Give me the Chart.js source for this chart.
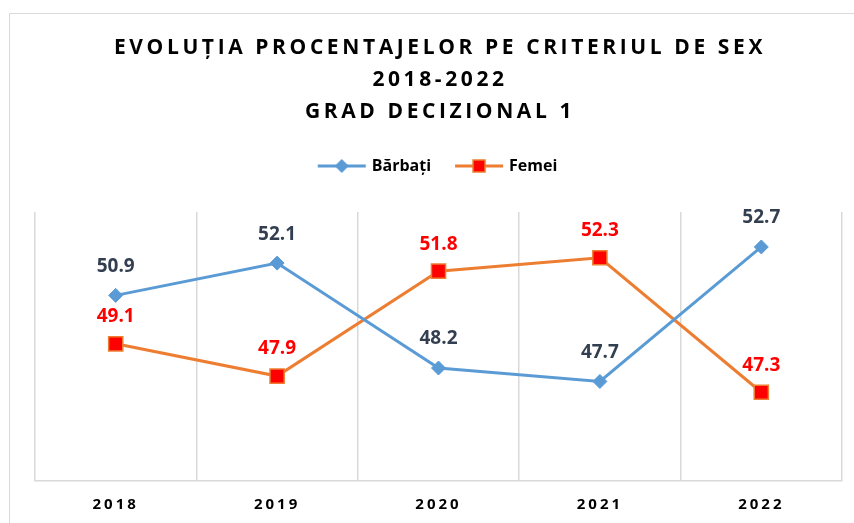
<!DOCTYPE html>
<html>
<head>
<meta charset="utf-8">
<script src="https://cdn.jsdelivr.net/npm/chart.js@4/dist/chart.umd.min.js"></script>
<style>
  html, body { margin: 0; padding: 0; background: #fff; }
  #wrap { width: 854px; height: 523px; }
</style>
</head>
<body>
<div id="wrap"><canvas id="myChart"></canvas></div>
<script>
const years = ['2018', '2019', '2020', '2021', '2022'];
const barbati = [50.9, 52.1, 48.2, 47.7, 52.7];
const femei = [49.1, 47.9, 51.8, 52.3, 47.3];
const titleLines = ['EVOLUȚIA PROCENTAJELOR PE CRITERIUL DE SEX', '2018-2022', 'GRAD DECIZIONAL 1'];

const FONT = '"Open Sans", sans-serif';

// little legend icons: line with marker in the middle
function legendIcon(kind) {
    let c = document.createElement('canvas');
    c.width = 50;
    c.height = 16;
    let g = c.getContext('2d');
    g.lineWidth = 3;
    g.strokeStyle = kind === 'b' ? '#5B9BD5' : '#ED7D31';
    g.beginPath();
    g.moveTo(1, 8);
    g.lineTo(49, 8);
    g.stroke();
    if (kind === 'b') {
        g.fillStyle = '#5B9BD5';
        g.beginPath();
        g.moveTo(25, 1);
        g.lineTo(32, 8);
        g.lineTo(25, 15);
        g.lineTo(18, 8);
        g.closePath();
        g.fill();
    } else {
        g.fillStyle = '#FF0000';
        g.fillRect(19, 2, 12, 12);
        g.lineWidth = 1.5;
        g.strokeStyle = '#ED7D31';
        g.strokeRect(19, 2, 12, 12);
    }
    return c;
}
const icons = [legendIcon('b'), legendIcon('f')];

const extras = {
    id: 'extras',
    beforeInit(chart) {
        const fit = chart.legend.fit;
        chart.legend.fit = function () {
            fit.bind(chart.legend)();
            this.height += 28;
        };
    },
    afterDatasetsDraw(chart) {
        let ctx = chart.ctx;
        ctx.save();
        ctx.font = 'bold 19px ' + FONT;
        ctx.textAlign = 'center';
        ctx.textBaseline = 'middle';
        chart.data.datasets.forEach((ds, i) => {
            let meta = chart.getDatasetMeta(i);
            ctx.fillStyle = i === 0 ? '#333F50' : '#FF0000';
            let off = i === 0 ? 29 : 27;
            meta.data.forEach((pt, j) => {
                ctx.fillText(ds.data[j].toFixed(1), pt.x, pt.y - off);
            });
        });
        ctx.restore();
        ctx.letterSpacing = '3px';
    },
    afterDraw(chart) {
        let ctx = chart.ctx;
        ctx.save();
        // outer frame
        ctx.strokeStyle = '#D9D9D9';
        ctx.lineWidth = 1;
        ctx.beginPath();
        ctx.moveTo(9.5, chart.height);
        ctx.lineTo(9.5, 13.5);
        ctx.lineTo(chart.width, 13.5);
        ctx.stroke();
        // title
        ctx.letterSpacing = '3.6px';
        ctx.font = 'bold 21px ' + FONT;
        ctx.fillStyle = '#000';
        ctx.textAlign = 'center';
        ctx.textBaseline = 'middle';
        titleLines.forEach((t, i) => {
            ctx.fillText(t, 440, 48 + i * 32);
        });
        ctx.restore();
        ctx.letterSpacing = '0px';
    }
};

const ctx = document.getElementById('myChart').getContext('2d');
const myChart = new Chart(ctx, {
    type: 'line',
    data: {
        labels: years,
        datasets: [{
            label: 'Bărbați',
            data: barbati,
            borderColor: '#5B9BD5',
            backgroundColor: '#5B9BD5',
            borderWidth: 3,
            pointStyle: 'rectRot',
            pointRadius: 7,
            pointBackgroundColor: '#5B9BD5',
            pointBorderColor: '#5B9BD5',
            pointBorderWidth: 1,
            tension: 0
        }, {
            label: 'Femei',
            data: femei,
            borderColor: '#ED7D31',
            backgroundColor: '#FF0000',
            borderWidth: 3,
            pointStyle: 'rect',
            pointRadius: 10,
            pointBackgroundColor: '#FF0000',
            pointBorderColor: '#ED7D31',
            pointBorderWidth: 1.5,
            tension: 0
        }]
    },
    options: {
        responsive: true,
        maintainAspectRatio: false,
        animation: false,
        layout: {
            padding: { top: 132, left: 35, right: 12, bottom: -6 }
        },
        plugins: {
            tooltip: { enabled: false },
            legend: {
                display: true,
                position: 'top',
                labels: {
                    usePointStyle: true,
                    pointStyleWidth: 44,
                    boxHeight: 16,
                    padding: 26,
                    color: '#000',
                    font: { family: FONT, size: 16, weight: 'bold' },
                    generateLabels: (chart) => chart.data.datasets.map((ds, i) => ({
                        text: ds.label,
                        pointStyle: icons[i],
                        datasetIndex: i,
                        hidden: false,
                        lineWidth: 0,
                        fillStyle: 'transparent',
                        strokeStyle: 'transparent'
                    }))
                }
            }
        },
        scales: {
            x: {
                offset: true,
                grid: {
                    display: true,
                    offset: true,
                    color: '#D9D9D9',
                    lineWidth: 1.5,
                    drawTicks: false
                },
                border: { display: true, color: '#D9D9D9', width: 1.5 },
                ticks: {
                    z: 1,
                    padding: 15,
                    color: '#000',
                    font: { family: FONT, size: 15, weight: 'bold' }
                }
            },
            y: {
                display: false,
                min: 44,
                max: 54
            }
        }
    },
    plugins: [extras]
});
</script>
</body>
</html>
